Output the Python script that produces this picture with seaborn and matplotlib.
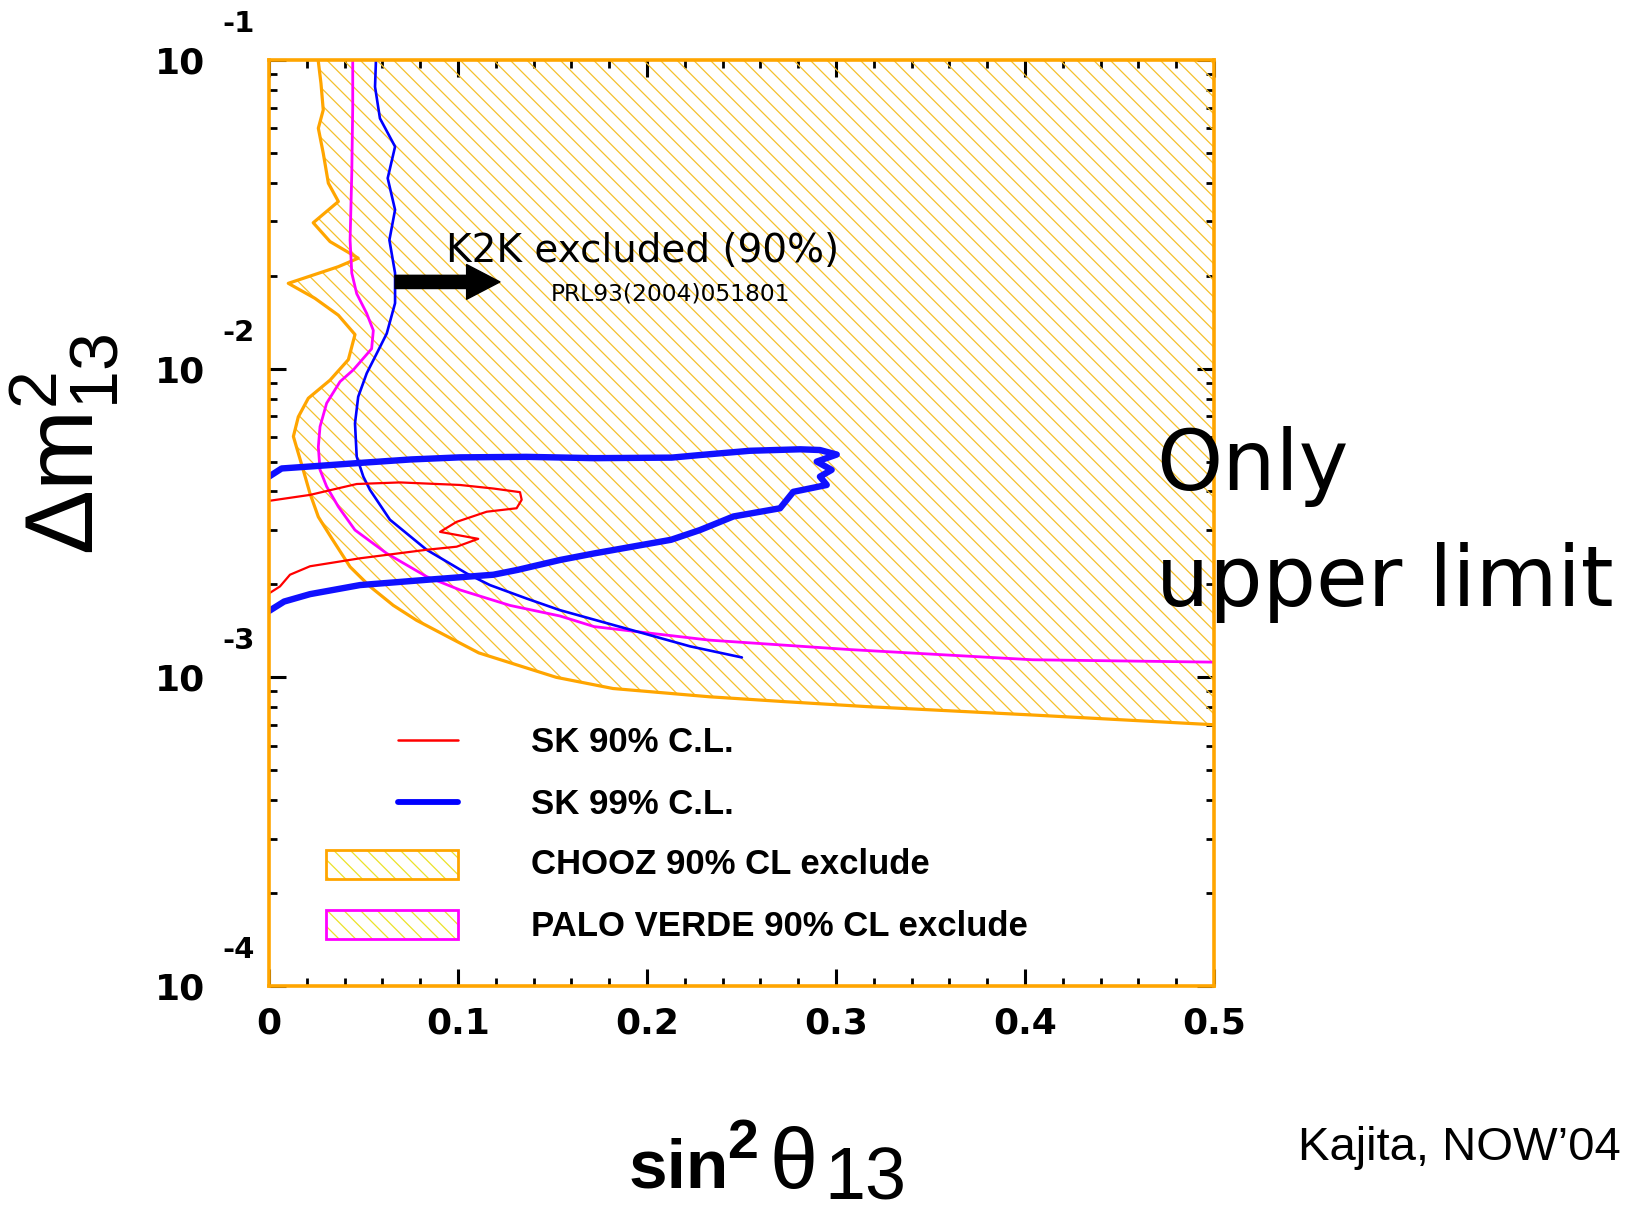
import matplotlib
matplotlib.use("Agg")
import matplotlib.pyplot as plt
import seaborn as sns
from matplotlib.ticker import MultipleLocator, LogLocator, NullFormatter, FixedLocator, FuncFormatter
from matplotlib.patches import Rectangle
from matplotlib.lines import Line2D

# ---------------------------------------------------------------- data
# CHOOZ 90% CL exclusion boundary (sin^2 theta13, dm^2_13 in eV^2)
chooz_s2 = [0.026, 0.0275, 0.0287, 0.0261, 0.0287, 0.0314, 0.0367, 0.0234, 0.0323,
            0.0472, 0.0367, 0.0102, 0.0129, 0.0243, 0.0367, 0.0455, 0.0420, 0.0323,
            0.0208, 0.0155, 0.0129, 0.0181, 0.0217, 0.0261, 0.0332, 0.0429, 0.0534,
            0.0658, 0.0781, 0.094, 0.111, 0.152, 0.182, 0.233, 0.273, 0.316, 0.404, 0.500]
chooz_dm2 = [1.0e-1, 8.40e-2, 6.89e-2, 6.01e-2, 4.99e-2, 3.99e-2, 3.48e-2, 2.97e-2, 2.58e-2,
             2.28e-2, 2.14e-2, 1.89e-2, 1.85e-2, 1.69e-2, 1.49e-2, 1.29e-2, 1.07e-2, 9.18e-3,
             8.02e-3, 6.98e-3, 6.03e-3, 4.70e-3, 3.94e-3, 3.31e-3, 2.82e-3, 2.28e-3, 1.97e-3,
             1.71e-3, 1.53e-3, 1.36e-3, 1.20e-3, 1.00e-3, 9.20e-4, 8.65e-4, 8.34e-4, 8.04e-4,
             7.55e-4, 7.02e-4]

# Palo Verde 90% CL exclusion boundary
pv_s2 = [0.0443, 0.0443, 0.0438, 0.0429, 0.0438, 0.0464, 0.0517, 0.0552, 0.0543, 0.0446,
         0.0376, 0.0305, 0.0270, 0.0261, 0.0270, 0.0305, 0.0367, 0.0455, 0.0623, 0.0834,
         0.101, 0.1275, 0.154, 0.172, 0.2329, 0.3074, 0.404, 0.500]
pv_dm2 = [1.0e-1, 7.06e-2, 4.30e-2, 2.61e-2, 2.04e-2, 1.75e-2, 1.51e-2, 1.33e-2, 1.16e-2,
          9.91e-3, 9.08e-3, 7.73e-3, 6.49e-3, 5.58e-3, 4.70e-3, 4.15e-3, 3.57e-3, 3.00e-3,
          2.52e-3, 2.12e-3, 1.92e-3, 1.71e-3, 1.58e-3, 1.46e-3, 1.32e-3, 1.23e-3, 1.14e-3,
          1.12e-3]

# K2K 90% excluded boundary
k2k_s2 = [0.0566, 0.0561, 0.0587, 0.0667, 0.0628, 0.0667, 0.0637, 0.0667, 0.0667, 0.0623,
          0.0570, 0.0517, 0.0472, 0.0455, 0.0464, 0.0499, 0.0534, 0.0640, 0.0834, 0.1046,
          0.1169, 0.1363, 0.154, 0.1924, 0.2228, 0.2502]
k2k_dm2 = [1.0e-1, 8.19e-2, 6.47e-2, 5.24e-2, 4.14e-2, 3.27e-2, 2.61e-2, 2.04e-2, 1.63e-2,
           1.30e-2, 1.12e-2, 9.66e-3, 8.11e-3, 6.65e-3, 5.19e-3, 4.47e-3, 4.05e-3, 3.24e-3,
           2.59e-3, 2.17e-3, 1.99e-3, 1.80e-3, 1.65e-3, 1.42e-3, 1.26e-3, 1.16e-3]

# Super-Kamiokande 99% C.L. contour
sk99_s2 = [0.0, 0.0067, 0.0217, 0.048, 0.075, 0.101, 0.136, 0.172, 0.213, 0.228, 0.2545,
           0.281, 0.2915, 0.3004, 0.2898, 0.2977, 0.2915, 0.2951, 0.2774, 0.2704, 0.2457,
           0.228, 0.2127, 0.172, 0.154, 0.1317, 0.1187, 0.0834, 0.0481, 0.0217, 0.008, 0.0]
sk99_dm2 = [4.47e-3, 4.75e-3, 4.82e-3, 4.95e-3, 5.08e-3, 5.16e-3, 5.18e-3, 5.13e-3, 5.15e-3,
            5.25e-3, 5.42e-3, 5.48e-3, 5.45e-3, 5.27e-3, 5.00e-3, 4.70e-3, 4.47e-3, 4.20e-3,
            3.99e-3, 3.53e-3, 3.32e-3, 3.00e-3, 2.79e-3, 2.52e-3, 2.40e-3, 2.23e-3, 2.15e-3,
            2.07e-3, 1.99e-3, 1.86e-3, 1.76e-3, 1.64e-3]

# Super-Kamiokande 90% C.L. contour
sk90_s2 = [0.0, 0.0217, 0.0464, 0.0693, 0.101, 0.1187, 0.1328, 0.1337, 0.131, 0.1152,
           0.0993, 0.0905, 0.1107, 0.0993, 0.0834, 0.0481, 0.0217, 0.0111, 0.0058, 0.0]
sk90_dm2 = [3.73e-3, 3.90e-3, 4.23e-3, 4.28e-3, 4.20e-3, 4.09e-3, 3.98e-3, 3.76e-3, 3.53e-3,
            3.44e-3, 3.19e-3, 2.96e-3, 2.81e-3, 2.65e-3, 2.59e-3, 2.43e-3, 2.29e-3, 2.15e-3,
            1.97e-3, 1.87e-3]

x_ticks = [0, 0.1, 0.2, 0.3, 0.4, 0.5]
x_tick_labels = ["0", "0.1", "0.2", "0.3", "0.4", "0.5"]
y_decades = [-4, -3, -2, -1]

legend_labels = ["SK 90% C.L.", "SK 99% C.L.", "CHOOZ 90% CL exclude",
                 "PALO VERDE 90% CL exclude"]

# K2K arrow: starts on the K2K boundary, points to larger sin^2
arrow_dm2 = 1.91e-2
arrow_from_s2 = 0.0667
arrow_to_s2 = 0.1222

# ---------------------------------------------------------------- style
sns.set_theme(style="white")
plt.rcParams["font.family"] = ["DejaVu Sans"]
plt.rcParams["text.color"] = "black"
plt.rcParams["axes.labelcolor"] = "black"
plt.rcParams["xtick.color"] = "black"
plt.rcParams["ytick.color"] = "black"
plt.rcParams["mathtext.fontset"] = "custom"
plt.rcParams["mathtext.rm"] = "Liberation Sans"
plt.rcParams["mathtext.it"] = "Liberation Sans"
plt.rcParams["mathtext.bf"] = "Liberation Sans:bold"
plt.rcParams["hatch.linewidth"] = 0.9

ORANGE = "#ffa500"
HATCH = "#f4c02c"
LEG_HATCH = "#ece227"
MAGENTA = "#ff00ff"
BLUE = "#0000ff"
RED = "#ff0000"
ARIAL = "Liberation Sans"

W, H = 1629, 1212
fig = plt.figure(figsize=(W / 100, H / 100), dpi=100)
L, R, T, B = 269, 1214, 60, 986
ax = fig.add_axes([L / W, 1 - B / H, (R - L) / W, (B - T) / H])
ax.set_yscale("log")
ax.set_xlim(0, 0.5)
ax.set_ylim(1e-4, 1e-1)

# CHOOZ excluded region: right of the boundary, hatched
reg_x = chooz_s2 + [0.5, 0.5]
reg_y = chooz_dm2 + [1e-1, 1e-1]
ax.fill(reg_x, reg_y, facecolor="none", edgecolor=HATCH, hatch="\\\\", linewidth=0, zorder=1)

sns.lineplot(x=chooz_s2, y=chooz_dm2, sort=False, estimator=None, ax=ax,
             color=ORANGE, linewidth=2.3, zorder=3)
sns.lineplot(x=pv_s2, y=pv_dm2, sort=False, estimator=None, ax=ax,
             color=MAGENTA, linewidth=2.0, zorder=4)
sns.lineplot(x=k2k_s2, y=k2k_dm2, sort=False, estimator=None, ax=ax,
             color=BLUE, linewidth=1.9, zorder=5)
sns.lineplot(x=sk90_s2, y=sk90_dm2, sort=False, estimator=None, ax=ax,
             color=RED, linewidth=1.6, zorder=6)
sns.lineplot(x=sk99_s2, y=sk99_dm2, sort=False, estimator=None, ax=ax,
             color="#1010ff", linewidth=4.6, zorder=6, solid_capstyle="round")

# axes frame and ticks
for sp in ax.spines.values():
    sp.set_color(ORANGE)
    sp.set_linewidth(2.6)
    sp.set_zorder(8)
ax.xaxis.set_major_locator(FixedLocator(x_ticks))
ax.xaxis.set_minor_locator(MultipleLocator(0.02))
ax.set_xticklabels(x_tick_labels)
ax.yaxis.set_major_locator(FixedLocator([10.0 ** e for e in y_decades]))
ax.yaxis.set_minor_locator(LogLocator(base=10, subs=range(2, 10)))
ax.yaxis.set_minor_formatter(NullFormatter())
ax.yaxis.set_major_formatter(FuncFormatter(lambda v, p: "10"))
ax.tick_params(which="both", direction="in", color="black", top=True, right=True,
               left=True, bottom=True, zorder=9)
ax.tick_params(which="major", length=12, width=2.2)
ax.tick_params(which="minor", length=6, width=2.0)
ax.tick_params(axis="x", which="major", labelsize=26, pad=15)
ax.tick_params(axis="y", which="major", labelsize=26, pad=46)
for lab in ax.get_xticklabels() + ax.get_yticklabels():
    lab.set_fontweight("bold")
for e in y_decades:
    ax.annotate("-%d" % abs(e), xy=(0, 10.0 ** e), xycoords=("axes fraction", "data"),
                xytext=(-10, 26), textcoords="offset points", ha="right", va="center",
                fontsize=21, fontweight="bold", annotation_clip=False)

# K2K annotation
ax.annotate("", xy=(arrow_to_s2, arrow_dm2), xytext=(arrow_from_s2, arrow_dm2),
            arrowprops=dict(arrowstyle="simple,head_length=2.4,head_width=2.5,tail_width=0.95",
                            mutation_scale=10, color="black", shrinkA=0, shrinkB=0),
            zorder=7)
ax.text(0.187, 0.782, "K2K excluded (90%)", transform=ax.transAxes, fontsize=28,
        va="baseline", ha="left", zorder=7)
ax.text(0.298, 0.740, "PRL93(2004)051801", transform=ax.transAxes, fontsize=16.8,
        va="baseline", ha="left", zorder=7)

# legend
def fx(px):
    return (px - L) / (R - L)

def fy(py):
    return (B - py) / (B - T)

ax.add_line(Line2D([fx(398), fx(458)], [fy(740), fy(740)], transform=ax.transAxes,
                   color=RED, linewidth=1.8, solid_capstyle="round", zorder=7))
ax.add_line(Line2D([fx(398), fx(458)], [fy(802), fy(802)], transform=ax.transAxes,
                   color=BLUE, linewidth=4.2, solid_capstyle="round", zorder=7))
for top, edge in [(850, ORANGE), (910, MAGENTA)]:
    box = dict(xy=(fx(326), fy(top + 29)), width=fx(458) - fx(326), height=fy(top) - fy(top + 29),
               transform=ax.transAxes, zorder=7)
    ax.add_patch(Rectangle(facecolor="none", edgecolor=LEG_HATCH, hatch="\\\\", linewidth=0, **box))
    ax.add_patch(Rectangle(facecolor="none", edgecolor=edge, linewidth=2.0, **box))
for cy, text in zip([742, 804, 865, 926], legend_labels):
    ax.text(fx(531), fy(cy), text, transform=ax.transAxes, fontsize=25, fontweight="bold",
            family=ARIAL, va="center", ha="left", zorder=7)

# side notes
fig.text(1156 / W, 1 - 490 / H, "Only", fontsize=60.5, va="baseline", ha="left")
fig.text(1156 / W, 1 - 606 / H, "upper limit", fontsize=60.5, va="baseline", ha="left")
fig.text(1621 / W, 1 - 1160 / H, "Kajita, NOW\u201904", fontsize=34, family=ARIAL,
         va="baseline", ha="right")

# axis titles
fig.text(65 / W, 1 - 444 / H, r"$\Delta \mathrm{m}_{13}^{2}$", fontsize=70, rotation=90,
         va="center", ha="center")
fig.text(629 / W, 1 - 1188 / H, "sin", fontsize=50, fontweight="bold", family=ARIAL,
         va="baseline", ha="left")
fig.text(727 / W, 1 - 1158 / H, "2", fontsize=40, fontweight="bold", family=ARIAL,
         va="baseline", ha="left")
fig.text(769 / W, 1 - 1188 / H, "\u03b8", fontsize=62, family=ARIAL,
         va="baseline", ha="left")
fig.text(824 / W, 1 - 1199 / H, "13", fontsize=53, family=ARIAL,
         va="baseline", ha="left")

fig.savefig("out.png", dpi=100)
